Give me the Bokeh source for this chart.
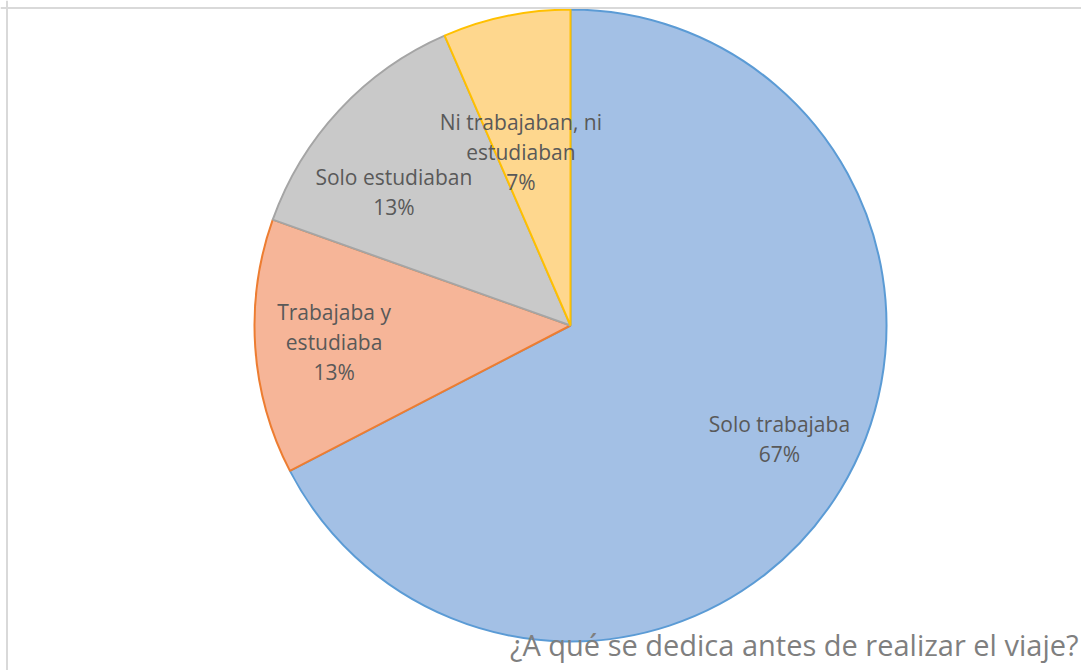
import math
from bokeh.plotting import figure
from bokeh.models import Range1d, Span, ColumnDataSource
from bokeh.core.properties import value
from bokeh.embed import file_html
from bokeh.resources import INLINE

# ---- data ----
categories = ["Solo trabajaba", "Trabajaba y estudiaba", "Solo estudiaban", "Ni trabajaban, ni estudiaban"]
label_lines = [["Solo trabajaba"], ["Trabajaba y", "estudiaba"], ["Solo estudiaban"], ["Ni trabajaban, ni", "estudiaban"]]
counts = [31, 6, 6, 3]
title_text = "¿A qué se dedica antes de realizar el viaje?"

# ---- style / layout ----
fill_colors = ["#a3c0e5", "#f6b598", "#c9c9c9", "#fed78e"]
line_colors = ["#5b9bd5", "#ed7d31", "#a5a5a5", "#ffc000"]
# label placement (polar: angle deg, fraction of radius) per slice
label_polar = [(-28.6, 0.753), (-176.0, 0.75), (143.0, 0.70), (106.0, 0.57)]

W, H = 1081, 670
cx, cy = 570, H - 325
R = 316

p = figure(width=W, height=H, output_backend="svg", toolbar_location=None,
           x_range=Range1d(0, W), y_range=Range1d(0, H), min_border=0)
p.axis.visible = False
p.grid.visible = False
p.outline_line_color = None
p.background_fill_color = "white"
p.border_fill_color = "white"

total = sum(counts)
starts, ends = [], []
a = 90.0
for c in counts:
    sweep = 360.0 * c / total
    starts.append(math.radians(a - sweep))
    ends.append(math.radians(a))
    a -= sweep

src = ColumnDataSource(dict(start=starts, end=ends, fill=fill_colors, line=line_colors, cat=categories))
p.wedge(x=cx, y=cy, radius=R, start_angle="start", end_angle="end",
        fill_color="fill", line_color="line", line_width=2, source=src)

# labels
font = value("Open Sans")
fs = 21
lh = 30
for lines, cnt, (ang, frac) in zip(label_lines, counts, label_polar):
    pct = f"{round(100 * cnt / total)}%"
    all_lines = lines + [pct]
    lx = cx + R * frac * math.cos(math.radians(ang))
    ly = cy + R * frac * math.sin(math.radians(ang))
    n = len(all_lines)
    ys = [ly + lh * ((n - 1) / 2 - i) for i in range(n)]
    p.text(x=[lx] * n, y=ys, text=all_lines, text_align="center", text_baseline="middle",
           text_font=font, text_font_size=f"{fs}px", text_color="#595959")

# title (bottom right)
p.text(x=[1078], y=[H - 644], text=[title_text], text_align="right", text_baseline="alphabetic",
       text_font=font, text_font_size="29px", text_color="#7f7f7f")

# chart area border (top and left visible)
p.add_layout(Span(location=H - 7.5, dimension="width", line_color="#d9d9d9", line_width=2))
p.add_layout(Span(location=6.5, dimension="height", line_color="#d9d9d9", line_width=2))

open("out.html", "w").write(file_html(p, INLINE))
